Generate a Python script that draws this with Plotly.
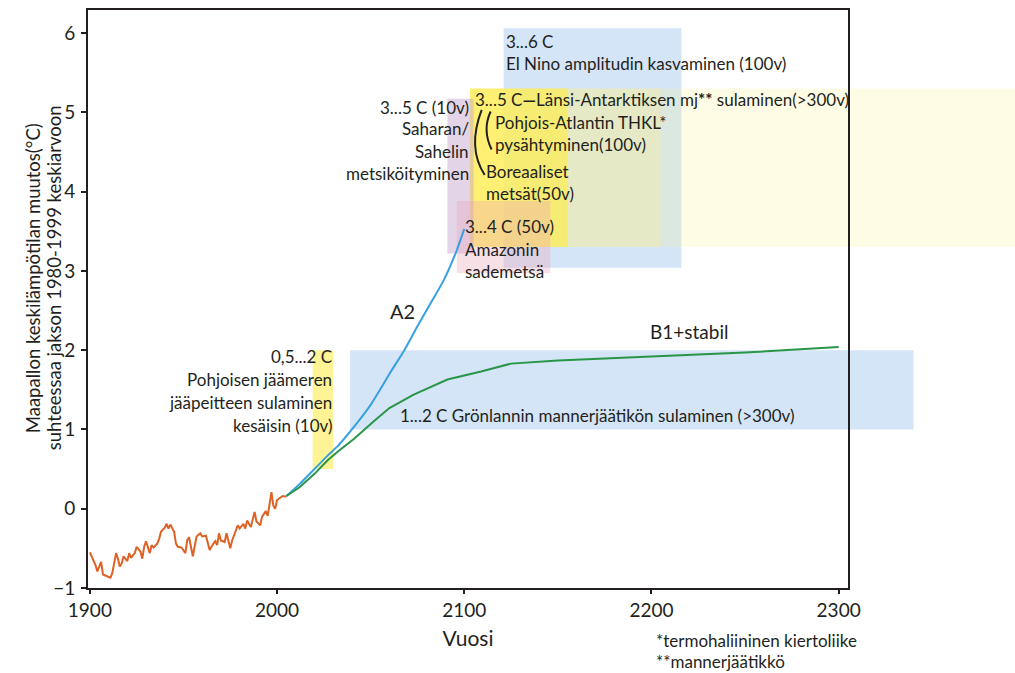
import plotly.graph_objects as go

# ---------------- data ----------------
obs_years = [1900, 1903, 1904, 1905, 1906, 1907, 1909, 1911, 1912, 1914, 1915, 1916, 1917, 1918,
             1920, 1921, 1922, 1924, 1925, 1927, 1928, 1929, 1930, 1931, 1932, 1933, 1934, 1936,
             1937, 1938, 1940, 1941, 1942, 1943, 1945, 1946, 1947, 1949, 1951, 1952, 1953, 1955,
             1956, 1957, 1959, 1960, 1962, 1963, 1964, 1966, 1967, 1968, 1969, 1970, 1972, 1973,
             1974, 1975, 1976, 1978, 1979, 1980, 1982, 1983, 1984, 1986, 1987, 1988, 1989, 1991,
             1992, 1994, 1995, 1996, 1997, 1998, 1999, 2000, 2002, 2003, 2005]
obs_vals = [-0.55, -0.71, -0.79, -0.73, -0.67, -0.83, -0.85, -0.87, -0.81, -0.56, -0.63, -0.73, -0.69, -0.60,
            -0.66, -0.56, -0.62, -0.56, -0.48, -0.54, -0.63, -0.48, -0.41, -0.48, -0.56, -0.46, -0.49, -0.44,
            -0.38, -0.29, -0.24, -0.19, -0.25, -0.20, -0.29, -0.44, -0.48, -0.49, -0.56, -0.40, -0.36, -0.60,
            -0.46, -0.35, -0.31, -0.35, -0.34, -0.44, -0.52, -0.44, -0.41, -0.46, -0.31, -0.40, -0.42, -0.31,
            -0.40, -0.50, -0.40, -0.27, -0.21, -0.25, -0.19, -0.25, -0.15, -0.23, -0.13, -0.04, -0.16, -0.21,
            -0.10, -0.03, -0.09, 0.04, 0.21, 0.04, 0.00, 0.11, 0.15, 0.16, 0.15]

a2_years = [2005, 2012, 2020, 2027, 2032, 2035, 2043, 2050, 2055, 2060, 2068, 2075, 2082, 2089, 2096, 2100]
a2_vals = [0.16, 0.31, 0.50, 0.67, 0.78, 0.86, 1.09, 1.31, 1.50, 1.70, 2.00, 2.30, 2.59, 2.88, 3.26, 3.53]

b1_years = [2005, 2012, 2020, 2027, 2033, 2041, 2052, 2060, 2073, 2091, 2109, 2125, 2150, 2200, 2226, 2250, 2300]
b1_vals = [0.16, 0.27, 0.44, 0.61, 0.73, 0.88, 1.11, 1.27, 1.44, 1.63, 1.73, 1.83, 1.87, 1.92, 1.94, 1.97, 2.04]

x_ticks = [1900, 2000, 2100, 2200, 2300]
y_ticks = [-1, 0, 1, 2, 3, 4, 5, 6]

# tipping-point boxes: (x0, x1, y0, y1, colour)
boxes = [
    (2121, 2216, 3.04, 6.06, "rgb(212,229,247)"),          # El Nino
    (2039, 2340, 1.00, 2.00, "rgb(212,229,247)"),          # Grönlanti
    (2103, 2400, 3.30, 5.30, "rgba(255,242,130,0.20)"),    # Länsi-Antarktis
    (2103, 2205, 3.30, 5.30, "rgba(255,240,120,0.25)"),    # THKL
    (2103, 2155, 3.30, 5.30, "rgba(255,236,80,0.70)"),     # Boreaaliset
    (2091, 2105, 3.22, 5.17, "rgba(195,160,205,0.45)"),    # Sahara/Sahel
    (2096, 2146, 2.97, 3.88, "rgba(235,165,185,0.35)"),    # Amazon
    (2019, 2030, 0.50, 2.00, "rgba(255,242,130,0.85)"),    # Jäämeri
]

X_RANGE = [1899, 2305]
Y_RANGE = [-1.0, 6.29]

TXT = "#231F20"
FONT = "Lato"

def to_paper_x(year):
    return (year - X_RANGE[0]) / (X_RANGE[1] - X_RANGE[0])

fig = go.Figure()

fig.add_trace(go.Scatter(x=obs_years, y=obs_vals, mode="lines",
                         line=dict(color="rgb(222,98,38)", width=2), showlegend=False))
fig.add_trace(go.Scatter(x=a2_years, y=a2_vals, mode="lines", line_shape="spline",
                         line=dict(color="rgb(55,160,225)", width=2, smoothing=0.5), showlegend=False))
fig.add_trace(go.Scatter(x=b1_years, y=b1_vals, mode="lines",
                         line=dict(color="rgb(40,150,70)", width=2), showlegend=False))

shapes = []
for x0, x1, y0, y1, col in boxes:
    shapes.append(dict(type="rect", xref="paper", yref="y", x0=to_paper_x(x0), x1=to_paper_x(x1),
                       y0=y0, y1=y1, fillcolor=col, line=dict(width=0), layer="below"))

# brackets
shapes.append(dict(type="path", xref="x", yref="y", layer="above",
                   path="M 2109.3,5.03 Q 2101.5,4.55 2110.9,4.21",
                   line=dict(color=TXT, width=2)))
shapes.append(dict(type="path", xref="x", yref="y", layer="above",
                   path="M 2114.1,5.01 Q 2109.5,4.78 2114.6,4.53",
                   line=dict(color=TXT, width=2)))

fig.update_layout(shapes=shapes)

def ann(text, x, y, xanchor="left", size=17, **kw):
    fig.add_annotation(text=text, x=x, y=y, xref="x", yref="y", xanchor=xanchor, yanchor="middle",
                       showarrow=False, font=dict(family=FONT, size=size, color=TXT),
                       align=xanchor if xanchor != "center" else "center", **kw)

ann("3...6 C", 2121, 5.89)
ann("El Nino amplitudin kasvaminen (100v)", 2121, 5.61)
ann("3...5 C<b>—</b>Länsi-Antarktiksen mj<b>**</b> sulaminen(>300v)", 2104.5, 5.16)
ann("Pohjois-Atlantin THKL*", 2115.5, 4.87)
ann("pysähtyminen(100v)", 2115.5, 4.59)
ann("Boreaaliset", 2110.5, 4.25)
ann("metsät(50v)", 2110.5, 3.97)
ann("3...4 C (50v)", 2099.5, 3.56)
ann("Amazonin", 2099.5, 3.27)
ann("sademetsä", 2099.5, 2.99)
ann("3...5 C (10v)", 2103.5, 5.06, xanchor="right")
ann("Saharan/", 2103.5, 4.79, xanchor="right")
ann("Sahelin", 2103.5, 4.51, xanchor="right")
ann("metsiköityminen", 2103.5, 4.23, xanchor="right")
ann("0,5...2 C", 2030.5, 1.92, xanchor="right")
ann("Pohjoisen jäämeren", 2030.5, 1.63, xanchor="right")
ann("jääpeitteen sulaminen", 2030.5, 1.34, xanchor="right")
ann("kesäisin (10v)", 2030.5, 1.05, xanchor="right")
ann("1...2 C Grönlannin mannerjäätikön sulaminen (>300v)", 2064.5, 1.17)
ann("A2", 2067, 2.50, xanchor="center", size=20)
ann("B1+stabil", 2220.5, 2.24, xanchor="center", size=19)

fig.add_annotation(text="*termohaliininen kiertoliike", x=2201.5, y=-0.090, xref="x", yref="paper",
                   xanchor="left", yanchor="middle", showarrow=False,
                   font=dict(family=FONT, size=17, color=TXT))
fig.add_annotation(text="**mannerjäätikkö", x=2201.5, y=-0.128, xref="x", yref="paper",
                   xanchor="left", yanchor="middle", showarrow=False,
                   font=dict(family=FONT, size=17, color=TXT))

# y-axis title, two lines
fig.add_annotation(text="Maapallon keskilämpötilan muutos(°C)",
                   x=-0.0724, y=0.536, xref="paper", yref="paper", xanchor="center", yanchor="middle",
                   textangle=-90, showarrow=False, font=dict(family=FONT, size=18.5, color=TXT))
fig.add_annotation(text="suhteessaa jakson 1980-1999 keskiarvoon",
                   x=-0.0447, y=0.536, xref="paper", yref="paper", xanchor="center", yanchor="middle",
                   textangle=-90, showarrow=False, font=dict(family=FONT, size=18.5, color=TXT))

fig.update_xaxes(range=X_RANGE, tickvals=x_ticks, ticks="outside", ticklen=4, tickwidth=2,
                 tickcolor=TXT, showline=True, linewidth=2, linecolor=TXT, mirror=True,
                 showgrid=False, zeroline=False,
                 tickfont=dict(family=FONT, size=19, color=TXT),
                 title=dict(text="Vuosi", font=dict(family=FONT, size=21, color=TXT), standoff=12))
fig.update_yaxes(range=Y_RANGE, tickvals=y_ticks, ticks="outside", ticklen=5, tickwidth=2,
                 tickcolor=TXT, showline=True, linewidth=2, linecolor=TXT, mirror=True,
                 showgrid=False, zeroline=False, ticklabelstandoff=2,
                 tickfont=dict(family=FONT, size=19, color=TXT))

fig.update_layout(width=1015, height=673,
                  margin=dict(l=88, r=167, t=8, b=85),
                  paper_bgcolor="white", plot_bgcolor="rgba(0,0,0,0)",
                  showlegend=False)

fig.write_html("out.html", config={"displayModeBar": False},
               post_script="document.body.style.margin='0';document.body.style.overflow='hidden';")
